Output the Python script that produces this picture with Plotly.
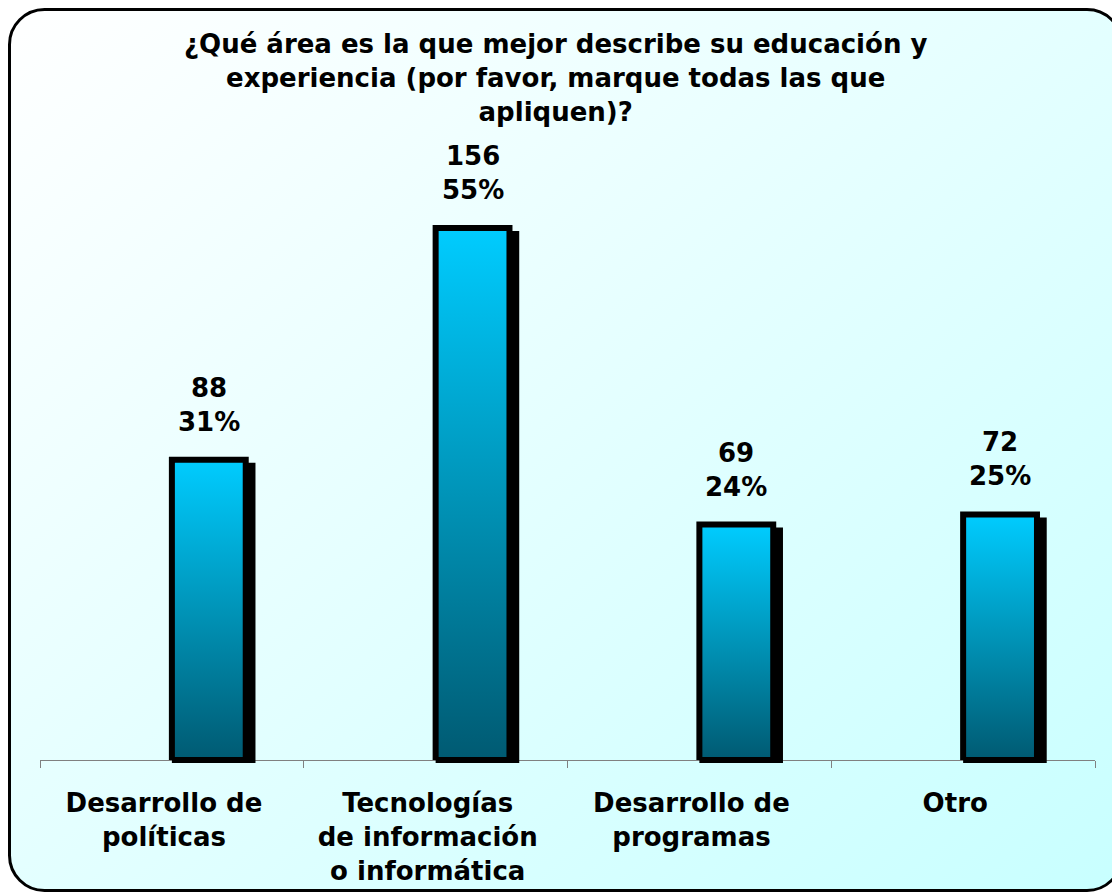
import base64
import plotly.graph_objects as go

# data
categories = ["Desarrollo de<br>políticas", "Tecnologías<br>de información<br>o informática",
              "Desarrollo de<br>programas", "Otro"]
counts = [88, 156, 69, 72]
percents = ["31%", "55%", "24%", "25%"]
title_text = ("¿Qué área es la que mejor describe su educación y<br>"
              "experiencia (por favor, marque todas las que<br>apliquen)?")

W, H = 1120, 893
ml, mr, mt, mb = 32, 33, 122, 137
pw, ph = W - ml - mr, H - mt - mb
px_per_unit = 3.41
y_low = -1.2
y_high = y_low + ph / px_per_unit

bar_w = 0.28          # bar width in category units
shadow_dx = 0.037     # shadow shift right
shadow_dy = 0.88      # shadow shift down (value units)
grad = [[0, "#005A72"], [0.5, "#0094B8"], [1, "#00CCFF"]]
font_family = "DejaVu Sans"

fig = go.Figure()

# shadows behind the bars
fig.add_trace(go.Bar(
    x=list(range(len(counts))), y=counts, base=[-shadow_dy] * len(counts),
    width=bar_w, offset=shadow_dx,
    marker=dict(color="black", line=dict(width=0)),
    hoverinfo="skip", showlegend=False,
))

# gradient bars with thick black outline
for i, v in enumerate(counts):
    left, right = i, i + bar_w
    fig.add_trace(go.Scatter(
        x=[left, left, right, right, left], y=[0, v, v, 0, 0],
        mode="lines", fill="toself",
        fillgradient=dict(type="vertical", colorscale=grad),
        line=dict(color="black", width=6),
        hoverinfo="skip", showlegend=False,
    ))

# value labels
for i, (c, p) in enumerate(zip(counts, percents)):
    fig.add_annotation(
        x=i + bar_w / 2, y=c, text=f"{c}<br>{p}", showarrow=False,
        yanchor="bottom", yshift=21,
        font=dict(family=font_family, size=26, color="black", weight="bold"),
    )

# rounded frame with diagonal gradient background
svg = (
    '<svg xmlns="http://www.w3.org/2000/svg" width="1120" height="893" '
    'viewBox="0 0 1120 893" preserveAspectRatio="none">'
    '<defs><linearGradient id="g" x1="0" y1="0" x2="1" y2="1">'
    '<stop offset="0" stop-color="#FFFFFF"/><stop offset="1" stop-color="#C8FFFF"/>'
    '</linearGradient></defs>'
    '<rect x="1.5" y="1.5" width="1112.5" height="881" rx="35" ry="35" '
    'fill="url(#g)" stroke="#000" stroke-width="3"/></svg>'
)
bg_src = "data:image/svg+xml;base64," + base64.b64encode(svg.encode()).decode()

axis_pos = (0 - y_low) / (y_high - y_low)

fig.update_layout(
    width=W, height=H,
    margin=dict(l=ml, r=mr, t=mt, b=mb),
    paper_bgcolor="white", plot_bgcolor="rgba(0,0,0,0)",
    title=dict(text=title_text, x=0.489, xanchor="center", y=1 - 45 / H, yanchor="top",
               yref="container",
               font=dict(family=font_family, size=26, color="black", weight="bold")),
    images=[dict(source=bg_src, xref="paper", yref="paper",
                 x=-ml / pw, y=1 + mt / ph, sizex=W / pw, sizey=H / ph,
                 sizing="stretch", xanchor="left", yanchor="top", layer="below")],
    xaxis=dict(
        range=[-0.5, len(counts) - 0.5], anchor="free", position=axis_pos,
        tickvals=[i - 0.03 for i in range(len(counts))], ticktext=categories,
        ticks="outside", ticklen=20, tickcolor="rgba(0,0,0,0)",
        minor=dict(tickvals=[i - 0.5 for i in range(len(counts) + 1)],
                   ticks="outside", ticklen=7, tickcolor="#808080", tickwidth=1),
        showline=True, linecolor="#808080", linewidth=1,
        showgrid=False, zeroline=False, layer="below traces",
        tickfont=dict(family=font_family, size=26, color="black", weight="bold"),
    ),
    yaxis=dict(range=[y_low, y_high], visible=False),
    barmode="overlay",
)

fig.write_html("out.html")
